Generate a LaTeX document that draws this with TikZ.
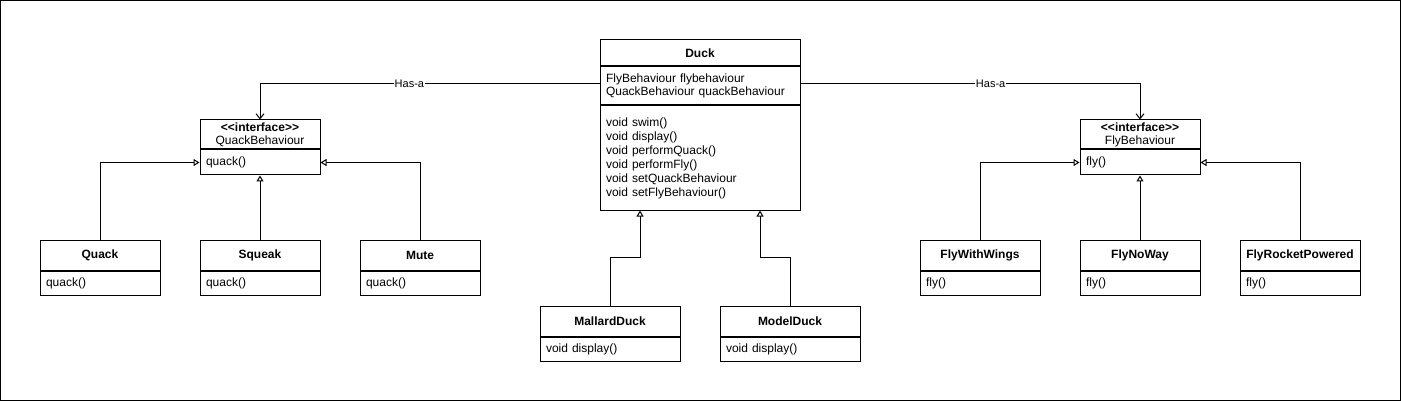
\documentclass[tikz,border=0pt]{standalone}
\usepackage{fontspec}
\setmainfont{Liberation Sans}
\usetikzlibrary{arrows.meta, positioning}

\begin{document}
\begin{tikzpicture}[x=1pt, y=-1pt, line width=1pt,
		hdr/.style={draw, fill=white, font=\fontsize{12}{14}\selectfont\bfseries, inner sep=0pt, minimum width=#1, minimum height=30pt},
		ihdr/.style={draw, fill=white, align=center, font=\fontsize{12}{13}\selectfont, inner sep=0pt, minimum width=#1, minimum height=29pt},
		body/.style={draw, fill=white, align=left, font=\fontsize{12}{14}\selectfont, inner xsep=6pt, inner ysep=0pt, text width=#1, minimum height=24pt},
		inh/.style={-{Triangle[open, fill=white, length=6pt, width=7pt]}},
		hasa/.style={-{Straight Barb[length=5pt, width=8pt]}},
		lbl/.style={fill=white, font=\fontsize{11}{13}\selectfont, inner sep=1pt}]
	\useasboundingbox (0,0) rectangle (1401,401);
	\draw (0.5,0.5) rectangle (1400.5,400.5);
	% Duck
	\node[hdr=200, minimum height=26pt] (duck) at (700,53) {Duck};
	\node[body=188pt, below=0pt of duck, minimum height=38pt, font=\fontsize{12}{13}\selectfont] (duckattr) {FlyBehaviour flybehaviour\\QuackBehaviour quackBehaviour};
	\node[body=188pt, below=0pt of duckattr, minimum height=104pt] (duckops) {void swim()\\void display()\\void performQuack()\\void performFly()\\void setQuackBehaviour\\void setFlyBehaviour()};
	% interfaces
	\node[ihdr=120] (quackbeh) at (260,134.5) {\textbf{<{}<interface>{}>}\\QuackBehaviour};
	\node[body=108pt, below=0pt of quackbeh, minimum height=25pt] (quackbehm) {quack()};
	\node[ihdr=120] (flybeh) at (1140,134.5) {\textbf{<{}<interface>{}>}\\FlyBehaviour};
	\node[body=108pt, below=0pt of flybeh, minimum height=25pt] (flybehm) {fly()};
	% quack classes
	\node[hdr=120] (quack) at (100,255) {Quack};
	\node[body=108pt, below=0pt of quack] (quackm) {quack()};
	\node[hdr=120] (squeak) at (260,255) {Squeak};
	\node[body=108pt, below=0pt of squeak] (squeakm) {quack()};
	\node[hdr=120] (mute) at (420,255) {Mute};
	\node[body=108pt, below=0pt of mute] (mutem) {quack()};
	% fly classes
	\node[hdr=120] (wings) at (980,255) {FlyWithWings};
	\node[body=108pt, below=0pt of wings] (wingsm) {fly()};
	\node[hdr=120] (noway) at (1140,255) {FlyNoWay};
	\node[body=108pt, below=0pt of noway] (nowaym) {fly()};
	\node[hdr=120] (rocket) at (1300,255) {FlyRocketPowered};
	\node[body=108pt, below=0pt of rocket] (rocketm) {fly()};
	% ducks
	\node[hdr=140] (mallard) at (610,321) {MallardDuck};
	\node[body=128pt, below=0pt of mallard] (mallardm) {void display()};
	\node[hdr=140] (model) at (790,321) {ModelDuck};
	\node[body=128pt, below=0pt of model] (modelm) {void display()};
	% has-a
	\draw[hasa] ([yshift=2pt]duckattr.west) -| node[lbl, pos=0.28] {Has-a} (quackbeh.north);
	\draw[hasa] ([yshift=2pt]duckattr.east) -| node[lbl, pos=0.28] {Has-a} (flybeh.north);
	% realisation
	\draw[inh] (quack.north) |- (quackbehm.west);
	\draw[inh] (squeak.north) -- (quackbehm.south);
	\draw[inh] (mute.north) |- (quackbehm.east);
	\draw[inh] (wings.north) |- (flybehm.west);
	\draw[inh] (noway.north) -- (flybehm.south);
	\draw[inh] (rocket.north) |- (flybehm.east);
	% inheritance
	\coordinate (mallardbend) at (640,257);
	\coordinate (modelbend) at (760,257);
	\draw[inh] (mallard.north) |- (mallardbend) -- (mallardbend |- duckops.south);
	\draw[inh] (model.north) |- (modelbend) -- (modelbend |- duckops.south);
\end{tikzpicture}
\end{document}
